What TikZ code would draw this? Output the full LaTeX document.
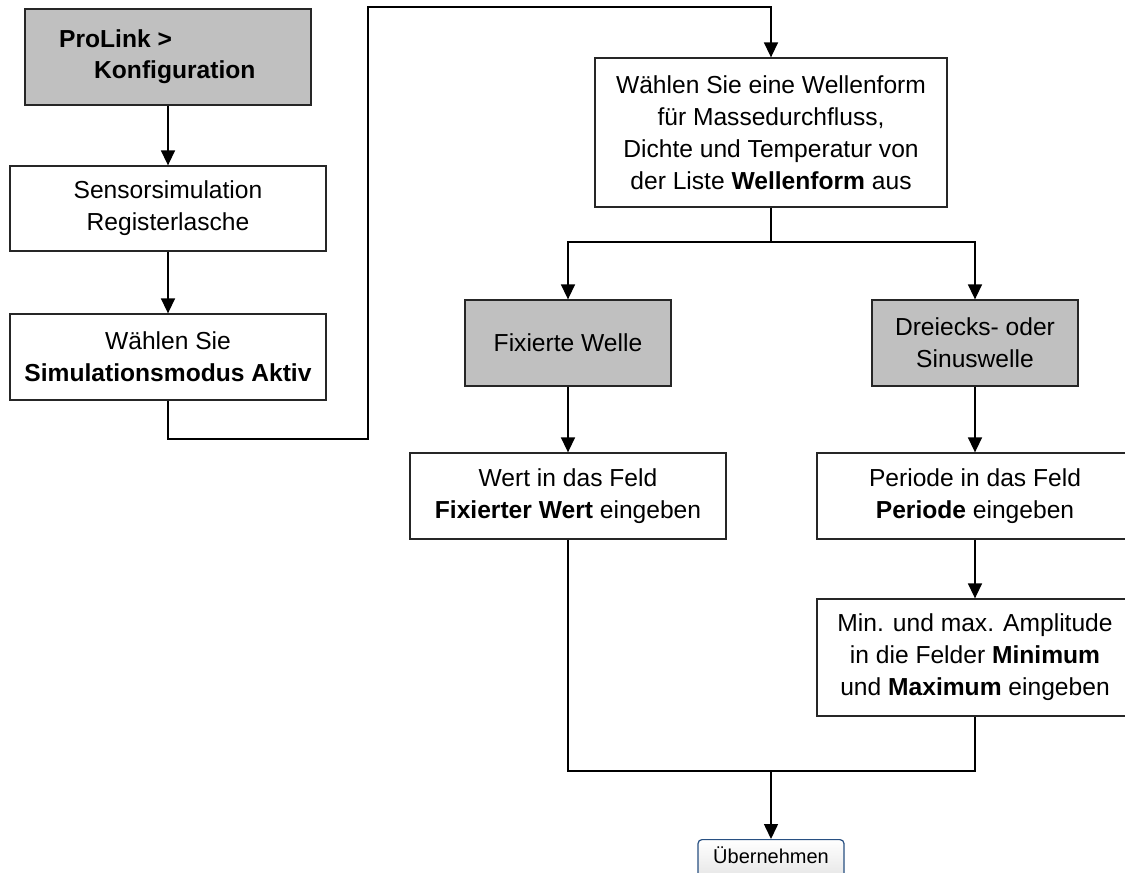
\documentclass[tikz,border=0pt]{standalone}
\usepackage{fontspec}
\setmainfont{Liberation Sans}
\usetikzlibrary{arrows.meta,positioning}
\definecolor{boxgray}{RGB}{192,192,192}
\definecolor{btnblue}{RGB}{40,80,130}
\definecolor{btnlow}{RGB}{228,228,228}
\tikzset{
  base/.style={draw=black!85, line width=1.3pt, align=center, inner sep=1pt,
    font=\fontsize{24.6}{32}\selectfont},
  plainbox/.style={base, fill=white},
  graybox/.style={base, fill=boxgray},
  conn/.style={line width=1.5pt, black},
  arr/.style={conn, -{Triangle[length=15pt,width=14pt]}},
  btn/.style={draw=btnblue, line width=1.2pt, rounded corners=4pt,
    top color=white, bottom color=btnlow, font=\fontsize{20}{24}\selectfont,
    minimum width=146pt, text height=21pt, text depth=14pt, inner ysep=3pt, inner xsep=0pt}
}
\begin{document}
\begin{tikzpicture}[x=1pt,y=-1pt]
\useasboundingbox (0,0) rectangle (1125,873);
\clip (0,0) rectangle (1125,873);
\fill[white] (0,0) rectangle (1125,873);

% left column
\node[graybox, minimum width=286pt, minimum height=96pt] (prolink) at (168,57) {};
\node[font=\fontsize{24.6}{31}\selectfont, align=left, anchor=west, inner sep=0pt] (prolinktxt) at (59,57)
  {\textbf{ProLink >}\\\hspace*{35pt}\textbf{Konfiguration}};
\node[plainbox, minimum width=316pt, minimum height=85pt] (sensor) at (168,208.5)
  {Sensorsimulation\\Registerlasche};
\node[plainbox, minimum width=316pt, minimum height=86pt] (waehlen) at (168,357)
  {Wählen Sie\\\textbf{Simulationsmodus Aktiv}};

% right part
\node[plainbox, minimum width=352pt, minimum height=149pt] (welle) at (771,132.5)
  {Wählen Sie eine Wellenform\\für Massedurchfluss,\\Dichte und Temperatur von\\der Liste \textbf{Wellenform} aus};
\node[graybox, minimum width=206pt, minimum height=86pt] (fix) at (568,343) {Fixierte Welle};
\node[graybox, minimum width=206pt, minimum height=86pt] (drei) at (975,343) {Dreiecks- oder\\Sinuswelle};
\node[plainbox, minimum width=316pt, minimum height=86pt] (wert) at (568,496)
  {Wert in das Feld\\\textbf{Fixierter Wert} eingeben};
\node[plainbox, minimum width=316pt, minimum height=86pt] (periode) at (975,496)
  {Periode in das Feld\\\textbf{Periode} eingeben};
\node[plainbox, minimum width=316pt, minimum height=117pt] (minmax) at (975,657.5)
  {Min. und max. Amplitude\\in die Felder \textbf{Minimum}\\und \textbf{Maximum} eingeben};
\node[btn, anchor=north] (ok) at (771,839) {Übernehmen};

% helper coordinates
\coordinate (c1) at (168,439);
\coordinate (c2) at (368,439);
\coordinate (c3) at (368,7);
\coordinate (c4) at (771,7);
\coordinate (split) at (771,242);
\coordinate (merge) at (771,771);

% connectors
\draw[arr] (prolink.south) -- (sensor.north);
\draw[arr] (sensor.south) -- (waehlen.north);
\draw[arr] (waehlen.south) -- (c1) -- (c2) -- (c3) -- (c4) -- (welle.north);
\draw[conn] (welle.south) -- (split);
\draw[arr] (split) -| (fix.north);
\draw[arr] (split) -| (drei.north);
\draw[arr] (fix.south) -- (wert.north);
\draw[arr] (drei.south) -- (periode.north);
\draw[arr] (periode.south) -- (minmax.north);
\draw[conn] (wert.south) |- (merge) -| (minmax.south);
\draw[arr] (merge) -- (ok.north);
\end{tikzpicture}
\end{document}
